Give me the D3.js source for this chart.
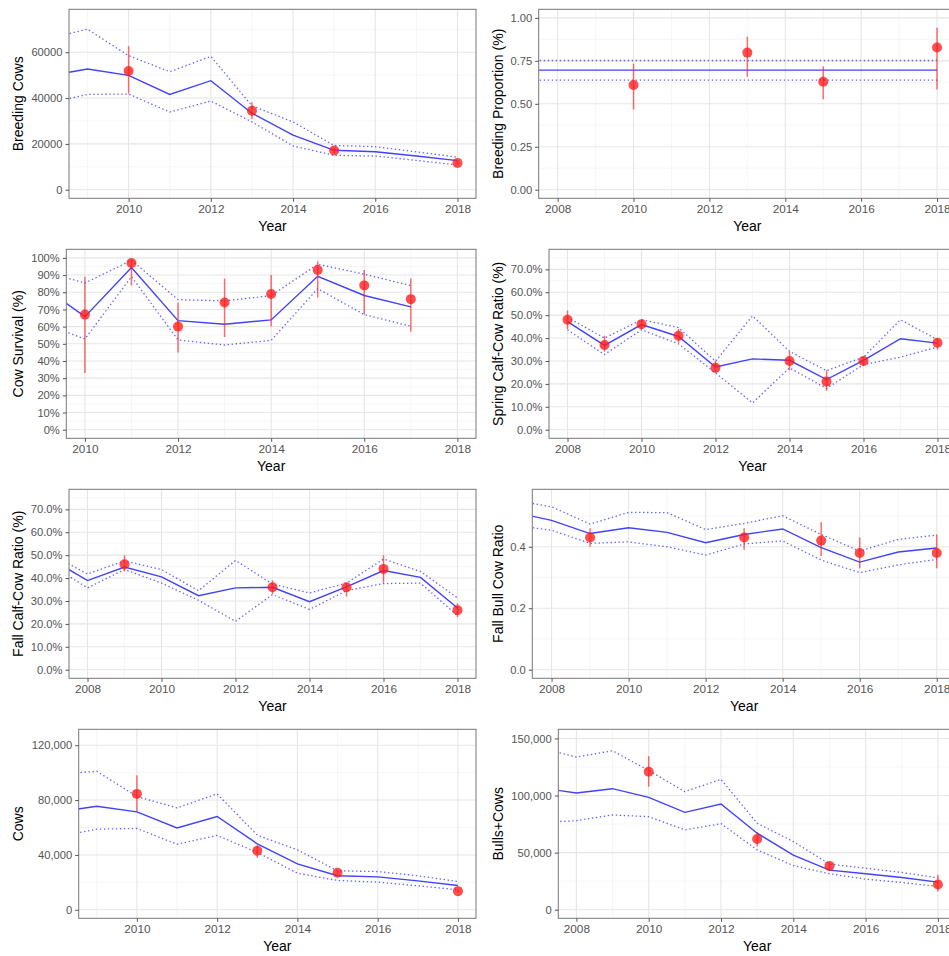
<!DOCTYPE html>
<html><head><meta charset="utf-8">
<script src="https://cdn.jsdelivr.net/npm/d3@7"></script>
<style>body{margin:0;background:#fff}svg{display:block;font-family:"Liberation Sans",Arial,Helvetica,sans-serif}</style>
</head><body><svg id="c" width="949" height="956"></svg>
<script>
// ---------- Panel 1: Breeding Cows ----------
const bcYears = [2008,2009,2010,2011,2012,2013,2014,2015,2016,2017,2018];
const bcEst   = [49600,52700,49900,41600,47600,33400,23800,17200,16600,14700,12700];
const bcUpper = [65700,70070,58500,51500,58200,36600,29600,19300,18800,16500,14200];
const bcLower = [37500,41600,41750,33900,38700,29600,19100,15000,14700,12800,10800];
const bcObsYears = [2010,2013,2015,2018];
const bcObs   = [51800,34450,17100,11700];
const bcObsLo = [42000,30900,16000,10900];
const bcObsHi = [62600,38200,18300,12600];
const bcYTicks = [0,20000,40000,60000];
const bcYMinor = [10000,30000,50000,70000];

// ---------- Panel 2: Breeding Proportion ----------
const bpYears = [2007,2018];
const bpEst   = [0.696,0.696];
const bpUpper = [0.752,0.752];
const bpLower = [0.638,0.638];
const bpObsYears = [2010,2013,2015,2018];
const bpObs   = [0.609,0.798,0.628,0.828];
const bpObsLo = [0.467,0.657,0.527,0.583];
const bpObsHi = [0.733,0.890,0.719,0.942];
const bpYTicks = [0,0.25,0.5,0.75,1];
const bpYMinor = [0.125,0.375,0.625,0.875];

// ---------- Panel 3: Cow Survival ----------
const csYears = [2009,2010,2011,2012,2013,2014,2015,2016,2017];
const csEst   = [0.853,0.658,0.944,0.635,0.614,0.639,0.893,0.781,0.715];
const csUpper = [0.928,0.854,0.986,0.757,0.750,0.780,0.963,0.905,0.839];
const csLower = [0.628,0.528,0.891,0.522,0.493,0.520,0.821,0.670,0.602];
const csObsYears = [2010,2011,2012,2013,2014,2015,2016,2017];
const csObs   = [0.67,0.97,0.60,0.74,0.79,0.93,0.84,0.76];
const csObsLo = [0.33,0.84,0.45,0.54,0.60,0.77,0.67,0.57];
const csObsHi = [0.89,0.99,0.74,0.88,0.90,0.98,0.93,0.88];
const csYTicks = [0,0.1,0.2,0.3,0.4,0.5,0.6,0.7,0.8,0.9,1.0];
const csYMinor = [0.05,0.15,0.25,0.35,0.45,0.55,0.65,0.75,0.85,0.95];

// ---------- Panel 4: Spring Calf-Cow Ratio ----------
const scYears = [2008,2009,2010,2011,2012,2013,2014,2015,2016,2017,2018];
const scEst   = [0.472,0.368,0.459,0.407,0.274,0.309,0.303,0.219,0.303,0.397,0.378];
const scUpper = [0.490,0.400,0.480,0.446,0.299,0.497,0.342,0.258,0.317,0.480,0.393];
const scLower = [0.436,0.328,0.436,0.375,0.248,0.117,0.270,0.180,0.284,0.317,0.361];
const scObsYears = [2008,2009,2010,2011,2012,2014,2015,2016,2018];
const scObs   = [0.48,0.37,0.46,0.41,0.27,0.30,0.21,0.30,0.38];
const scObsLo = [0.44,0.34,0.44,0.38,0.25,0.26,0.17,0.28,0.35];
const scObsHi = [0.52,0.41,0.48,0.44,0.30,0.34,0.26,0.32,0.40];
const ratioYTicks = [0,0.1,0.2,0.3,0.4,0.5,0.6,0.7];
const ratioYMinor = [0.05,0.15,0.25,0.35,0.45,0.55,0.65,0.75];

// ---------- Panel 5: Fall Calf-Cow Ratio ----------
const fcYears = [2007,2008,2009,2010,2011,2012,2013,2014,2015,2016,2017,2018];
const fcEst   = [0.485,0.389,0.448,0.405,0.323,0.357,0.360,0.297,0.362,0.433,0.403,0.269];
const fcUpper = [0.504,0.418,0.475,0.437,0.345,0.477,0.374,0.335,0.378,0.483,0.429,0.313];
const fcLower = [0.459,0.357,0.437,0.378,0.303,0.211,0.328,0.263,0.345,0.376,0.378,0.236];
const fcObsYears = [2009,2013,2015,2016,2018];
const fcObs   = [0.46,0.36,0.36,0.44,0.26];
const fcObsLo = [0.43,0.33,0.32,0.38,0.23];
const fcObsHi = [0.50,0.39,0.38,0.50,0.29];

// ---------- Panel 6: Fall Bull Cow Ratio ----------
const fbYears = [2007,2008,2009,2010,2011,2012,2013,2014,2015,2016,2017,2018];
const fbEst   = [0.513,0.486,0.443,0.462,0.447,0.413,0.440,0.458,0.397,0.350,0.383,0.396];
const fbUpper = [0.552,0.530,0.474,0.512,0.511,0.456,0.476,0.501,0.440,0.386,0.424,0.438];
const fbLower = [0.470,0.454,0.411,0.416,0.400,0.373,0.409,0.419,0.357,0.316,0.341,0.359];
const fbObsYears = [2009,2013,2015,2016,2018];
const fbObs   = [0.43,0.43,0.42,0.38,0.38];
const fbObsLo = [0.40,0.39,0.37,0.33,0.33];
const fbObsHi = [0.46,0.46,0.48,0.43,0.44];
const fbYTicks = [0,0.2,0.4];
const fbYMinor = [0.1,0.3,0.5];

// ---------- Panel 7: Cows ----------
const cwYears = [2008,2009,2010,2011,2012,2013,2014,2015,2016,2017,2018];
const cwEst   = [71100,75500,71400,59700,68000,48100,33500,24800,24000,21100,17700];
const cwUpper = [98700,101000,82600,74300,84500,54400,43700,28400,27900,24800,20600];
const cwLower = [53000,58800,59300,47800,54200,41800,26700,21400,20200,17500,14600];
const cwObsYears = [2010,2013,2015,2018];
const cwObs   = [84500,43000,27000,13600];
const cwObsLo = [71600,38000,25500,12500];
const cwObsHi = [98100,47000,28500,14800];
const cwYTicks = [0,40000,80000,120000];
const cwYMinor = [20000,60000,100000];

// ---------- Panel 8: Bulls+Cows ----------
const buYears = [2007,2008,2009,2010,2011,2012,2013,2014,2015,2016,2017,2018];
const buEst   = [106800,102200,106000,98400,85300,92600,67000,47800,34700,31500,28200,24200];
const buUpper = [141700,133700,139200,122000,103400,114200,75700,59700,39900,36400,32600,28000];
const buLower = [76400,78000,83000,81500,69900,75400,52400,38700,31500,26800,23900,20400];
const buObsYears = [2010,2013,2015,2018];
const buObs   = [120900,62000,38400,22100];
const buObsLo = [107700,55300,35000,16000];
const buObsHi = [134500,68100,42000,30600];
const buYTicks = [0,50000,100000,150000];
const buYMinor = [25000,75000,125000];

const xTicksFrom2008 = [2008,2010,2012,2014,2016,2018];
const xTicksFrom2010 = [2010,2012,2014,2016,2018];
const xMinorYears = [2007,2009,2011,2013,2015,2017];

// ---------- panel definitions (layout + data references) ----------
const panels = [
  {title:"Breeding Cows", left:69, right:476, top:9.3, xd:[2008.55,2018.45], yd:[-3750,78750],
   xt:xTicksFrom2010, yt:bcYTicks, ym:bcYMinor, fmt:d3.format("d"),
   yrs:bcYears, est:bcEst, up:bcUpper, lo:bcLower, oy:bcObsYears, o:bcObs, olo:bcObsLo, ohi:bcObsHi, labX:17.5},
  {title:"Breeding Proportion (%)", left:538.7, right:956, top:9.3, xd:[2007.5,2018.5], yd:[-0.05,1.05],
   xt:xTicksFrom2008, yt:bpYTicks, ym:bpYMinor, fmt:d3.format(".2f"),
   yrs:bpYears, est:bpEst, up:bpUpper, lo:bpLower, oy:bpObsYears, o:bpObs, olo:bpObsLo, ohi:bpObsHi, labX:498},
  {title:"Cow Survival (%)", left:66.3, right:476, top:249.3, xd:[2009.6,2018.4], yd:[-0.05,1.05],
   xt:xTicksFrom2010, yt:csYTicks, ym:csYMinor, fmt:d3.format(".0%"),
   yrs:csYears, est:csEst, up:csUpper, lo:csLower, oy:csObsYears, o:csObs, olo:csObsLo, ohi:csObsHi, labX:17.5},
  {title:"Spring Calf-Cow Ratio (%)", left:549, right:956, top:249.3, xd:[2007.5,2018.5], yd:[-0.0375,0.7875],
   xt:xTicksFrom2008, yt:ratioYTicks, ym:ratioYMinor, fmt:d3.format(".1%"),
   yrs:scYears, est:scEst, up:scUpper, lo:scLower, oy:scObsYears, o:scObs, olo:scObsLo, ohi:scObsHi, labX:498},
  {title:"Fall Calf-Cow Ratio (%)", left:69, right:476, top:489.3, xd:[2007.5,2018.5], yd:[-0.0375,0.7875],
   xt:xTicksFrom2008, yt:ratioYTicks, ym:ratioYMinor, fmt:d3.format(".1%"),
   yrs:fcYears, est:fcEst, up:fcUpper, lo:fcLower, oy:fcObsYears, o:fcObs, olo:fcObsLo, ohi:fcObsHi, labX:17.5},
  {title:"Fall Bull Cow Ratio", left:532.3, right:956, top:489.3, xd:[2007.5,2018.5], yd:[-0.028,0.587],
   xt:xTicksFrom2008, yt:fbYTicks, ym:fbYMinor, fmt:d3.format(".1f"),
   yrs:fbYears, est:fbEst, up:fbUpper, lo:fbLower, oy:fbObsYears, o:fbObs, olo:fbObsLo, ohi:fbObsHi, labX:498},
  {title:"Cows", left:78.7, right:476, top:729.3, xd:[2008.55,2018.45], yd:[-6200,131600],
   xt:xTicksFrom2010, yt:cwYTicks, ym:cwYMinor, fmt:d3.format(","),
   yrs:cwYears, est:cwEst, up:cwUpper, lo:cwLower, oy:cwObsYears, o:cwObs, olo:cwObsLo, ohi:cwObsHi, labX:17.5},
  {title:"Bulls+Cows", left:558.3, right:956, top:729.3, xd:[2007.5,2018.5], yd:[-7500,158000],
   xt:xTicksFrom2008, yt:buYTicks, ym:buYMinor, fmt:d3.format(","),
   yrs:buYears, est:buEst, up:buUpper, lo:buLower, oy:buObsYears, o:buObs, olo:buObsLo, ohi:buObsHi, labX:498}
];

const PH = 189;
const svg = d3.select("#c");
const defs = svg.append("defs");

panels.forEach((p, i) => {
  const bottom = p.top + PH;
  const x = d3.scaleLinear().domain(p.xd).range([p.left, p.right]);
  const y = d3.scaleLinear().domain(p.yd).range([bottom, p.top]);
  const g = svg.append("g");

  defs.append("clipPath").attr("id", "clip" + i)
    .append("rect").attr("x", p.left).attr("y", p.top).attr("width", p.right - p.left).attr("height", PH);

  // grid
  const grid = g.append("g");
  const xMin = xMinorYears.filter(v => v > p.xd[0] && v < p.xd[1]);
  grid.selectAll(".gxm").data(xMin).join("line")
    .attr("x1", d => x(d)).attr("x2", d => x(d)).attr("y1", p.top).attr("y2", bottom)
    .attr("stroke", "#f2f2f2").attr("stroke-width", 0.7);
  grid.selectAll(".gym").data(p.ym.filter(v => v > p.yd[0] && v < p.yd[1])).join("line")
    .attr("x1", p.left).attr("x2", p.right).attr("y1", d => y(d)).attr("y2", d => y(d))
    .attr("stroke", "#f2f2f2").attr("stroke-width", 0.7);
  grid.selectAll(".gx").data(p.xt).join("line")
    .attr("x1", d => x(d)).attr("x2", d => x(d)).attr("y1", p.top).attr("y2", bottom)
    .attr("stroke", "#e6e6e6").attr("stroke-width", 1.1);
  grid.selectAll(".gy").data(p.yt).join("line")
    .attr("x1", p.left).attr("x2", p.right).attr("y1", d => y(d)).attr("y2", d => y(d))
    .attr("stroke", "#e6e6e6").attr("stroke-width", 1.1);

  // data
  const dg = g.append("g").attr("clip-path", "url(#clip" + i + ")");
  const line = d3.line().x(d => x(d[0])).y(d => y(d[1]));
  const series = (vals) => p.yrs.map((yr, k) => [yr, vals[k]]);
  [p.up, p.lo].forEach(vals => {
    dg.append("path").attr("d", line(series(vals))).attr("fill", "none")
      .attr("stroke", "#3a3aff").attr("stroke-opacity", 0.8).attr("stroke-width", 1.3)
      .attr("stroke-dasharray", "1.4,2.6");
  });
  dg.append("path").attr("d", line(series(p.est))).attr("fill", "none")
    .attr("stroke", "#2020ff").attr("stroke-opacity", 0.85).attr("stroke-width", 1.4);

  const obs = p.oy.map((yr, k) => ({yr, v: p.o[k], lo: p.olo[k], hi: p.ohi[k]}));
  dg.selectAll(".err").data(obs).join("line")
    .attr("x1", d => x(d.yr)).attr("x2", d => x(d.yr)).attr("y1", d => y(d.lo)).attr("y2", d => y(d.hi))
    .attr("stroke", "#ff2020").attr("stroke-opacity", 0.65).attr("stroke-width", 1.5);
  dg.selectAll(".pt").data(obs).join("circle")
    .attr("cx", d => x(d.yr)).attr("cy", d => y(d.v)).attr("r", 5)
    .attr("fill", "#ff1a1a").attr("fill-opacity", 0.78);

  // border
  g.append("rect").attr("x", p.left).attr("y", p.top).attr("width", p.right - p.left).attr("height", PH)
    .attr("fill", "none").attr("stroke", "#777").attr("stroke-width", 1);

  // axes
  const xa = g.append("g").attr("transform", `translate(0,${bottom})`)
    .call(d3.axisBottom(x).tickValues(p.xt).tickFormat(d3.format("d")).tickSize(3.5).tickPadding(3));
  const ya = g.append("g").attr("transform", `translate(${p.left},0)`)
    .call(d3.axisLeft(y).tickValues(p.yt).tickFormat(p.fmt).tickSize(3.5).tickPadding(3));
  [xa, ya].forEach(a => {
    a.select(".domain").remove();
    a.selectAll(".tick line").attr("stroke", "#555");
    a.selectAll(".tick text").attr("fill", "#555").attr("font-family", "Liberation Sans, Arial, sans-serif");
  });
  xa.selectAll(".tick text").attr("font-size", 11.8);
  ya.selectAll(".tick text").attr("font-size", 11.2);

  // titles
  g.append("text").attr("x", (p.left + Math.min(p.right, 949 + (p.right - 949)) ) / 2)
    .attr("x", (x(p.xd[0]) + x(p.xd[1])) / 2)
    .attr("y", bottom + 32.5).attr("text-anchor", "middle")
    .attr("font-size", 14).attr("fill", "#000").text("Year");
  g.append("text").attr("transform", `translate(${p.labX},${p.top + PH / 2}) rotate(-90)`)
    .attr("text-anchor", "middle").attr("dominant-baseline", "central")
    .attr("font-size", 14).attr("fill", "#000").text(p.title);
});
</script></body></html>
